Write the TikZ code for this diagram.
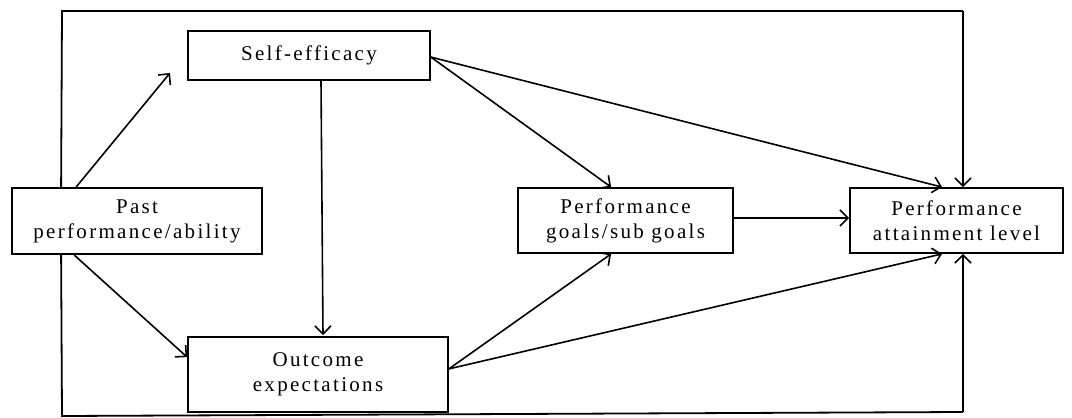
\documentclass[tikz,border=0pt]{standalone}
\usepackage{fontspec}
\setmainfont{Liberation Serif}[LetterSpace=11]
\usetikzlibrary{arrows.meta,calc}
\begin{document}
\begin{tikzpicture}[x=1pt,y=-1pt,
  box/.style={draw,line width=1.8pt,rectangle,align=center,inner sep=0pt,
    font=\fontsize{21}{25}\selectfont},
  arr/.style={line width=1.6pt,-{Straight Barb[length=8pt,width=16pt,line width=1.6pt]}},
  ln/.style={line width=1.8pt}]
\useasboundingbox (0,0) rectangle (1072,418);
\node[box,minimum width=242pt,minimum height=49pt] (self) at (309,55.5) {Self-efficacy};
\node[box,minimum width=250pt,minimum height=66pt] (past) at (137,221) {Past\\performance/ability};
\node[box,minimum width=215pt,minimum height=65pt] (goals) at (625.5,220.5) {Performance\\goals/sub goals};
\node[box,minimum width=213pt,minimum height=65pt] (att) at (956.5,220.5) {Performance\\attainment level};
\node[box,minimum width=260pt,minimum height=75pt] (out) at (318,374.5) {Outcome\\expectations};
\coordinate (tipself) at (170,73);
\coordinate (tl) at (62,11);
\coordinate (tr) at (963,11);
\coordinate (bl) at (62,416);
\coordinate (br) at (963,412);
% past -> self, past -> outcome
\draw[arr] ($(past.north west)+(65,0)$) -- (tipself);
\draw[arr] ($(past.south west)+(63,0)$) -- ($(out.north west)+(0,21)$);
% self -> outcome
\draw[arr] ($(self.south)+(12,0)$) -- ($(out.north)+(5,-1)$);
% self -> goals, self -> attainment
\draw[arr] ($(self.north east)+(0,27)$) -- ($(goals.north west)+(94,0)$);
\draw[arr] ($(self.north east)+(0,27)$) -- ($(att.north west)+(93,0)$);
% outcome -> goals, outcome -> attainment
\draw[arr] ($(out.south east)+(0,-44)$) -- ($(goals.south west)+(94,0)$);
\draw[arr] ($(out.south east)+(0,-44)$) -- ($(att.south west)+(93,0)$);
% goals -> attainment
\draw[arr] ($(goals.east)+(0,-2.5)$) -- ($(att.west)+(0,-2.5)$);
% top loop
\draw[ln] ($(past.north west)+(50,0)$) -- (tl) -- (tr);
\draw[arr] (tr) -- (tr |- att.north);
% bottom loop
\draw[ln] ($(past.south west)+(50,0)$) -- (bl) -- (br);
\draw[arr] (br) -- (br |- att.south);
\end{tikzpicture}
\end{document}
